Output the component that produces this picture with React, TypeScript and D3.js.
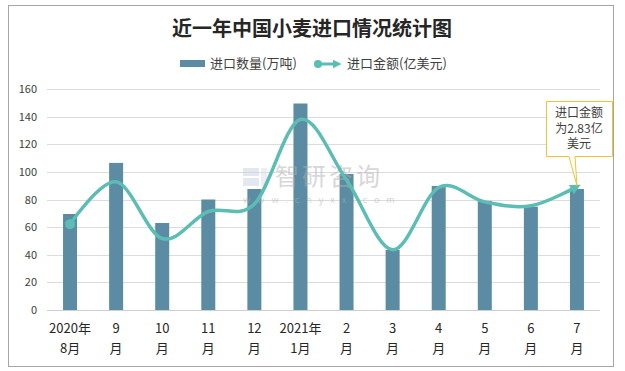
import React from "react";
import * as d3 from "d3";

// categories (two-line labels)
const labelTop = ["2020年", "9", "10", "11", "12", "2021年", "2", "3", "4", "5", "6", "7"];
const labelBottom = ["8月", "月", "月", "月", "月", "1月", "月", "月", "月", "月", "月", "月"];
// 进口数量(万吨)
const volume = [69.5, 106.5, 63, 80, 87.6, 149.5, 98.5, 43.5, 89.8, 79, 74.8, 87.6];
// 进口金额(亿美元)
const amount = [1.97, 2.94, 1.64, 2.26, 2.43, 4.37, 2.98, 1.38, 2.81, 2.48, 2.39, 2.83];
const yTicks = [0, 20, 40, 60, 80, 100, 120, 140, 160];
const calloutLines = ["进口金额", "为2.83亿", "美元"];

const W = 625;
const H = 371;
const BAR = "#5b8ca3";
const LINE = "#5bbdb3";
const FONT = "'Noto Sans CJK SC', 'Noto Sans', sans-serif";

export default function App() {
  const x = d3.scaleBand<number>().domain(d3.range(12)).range([47, 600]);
  const y = d3.scaleLinear().domain([0, 160]).range([310, 89]);
  const y2 = d3.scaleLinear().domain([0, 5.07]).range([310, 89]);
  const cx = (i: number) => (x(i) as number) + x.bandwidth() / 2;
  const barW = 14;

  const line = d3
    .line<number>()
    .x((d, i) => cx(i))
    .y(d => y2(d))
    .curve(d3.curveCardinal.tension(0));

  const last = amount.length - 1;

  return (
    <svg
      width={W}
      height={H}
      style={{ position: "absolute", left: 0, top: 0 }}
      fontFamily={FONT}
    >
      <defs>
        <marker
          id="arrow"
          viewBox="0 0 10 10"
          refX="6"
          refY="5"
          markerWidth="3"
          markerHeight="3"
          orient="auto"
          markerUnits="strokeWidth"
        >
          <path d="M0,0 L10,5 L0,10 z" fill={LINE} />
        </marker>
      </defs>
      <rect x={0} y={0} width={W} height={H} fill="#fff" />
      <rect x={8.5} y={5.5} width={605} height={361} fill="#fff" stroke="#a6a6a6" />

      {/* title */}
      <text
        x={312}
        y={36}
        textAnchor="middle"
        fontSize={20}
        fontWeight="bold"
        fill="#262626"
      >
        近一年中国小麦进口情况统计图
      </text>

      {/* legend */}
      <rect x={180} y={60} width={25} height={7} fill={BAR} />
      <text x={210} y={68} fontSize={13} fill="#404040">进口数量(万吨)</text>
      <line
        x1={318}
        y1={64}
        x2={338}
        y2={64}
        stroke={LINE}
        strokeWidth={3}
        markerEnd="url(#arrow)"
      />
      <circle cx={318} cy={64} r={4} fill={LINE} />
      <text x={347} y={68} fontSize={13} fill="#404040">进口金额(亿美元)</text>

      {/* grid + y axis */}
      {yTicks.map(t => (
        <g key={t}>
          <line
            x1={47}
            x2={600}
            y1={Math.round(y(t)) + 0.5}
            y2={Math.round(y(t)) + 0.5}
            stroke={t === 0 ? "#cfcfcf" : "#dcdcdc"}
          />
          <text x={37} y={y(t) + 4} textAnchor="end" fontSize={11} fill="#404040">
            {t}
          </text>
        </g>
      ))}

      {/* bars */}
      {volume.map((v, i) => (
        <rect
          key={i}
          x={cx(i) - barW / 2}
          y={y(v)}
          width={barW}
          height={y(0) - y(v)}
          fill={BAR}
        />
      ))}

      {/* watermark */}
      <g opacity={0.5}>
        <rect x={243} y={168} width={16} height={8} fill="#c9d1de" />
        <rect x={243} y={178} width={16} height={8} fill="#c9d1de" />
        <rect x={261} y={168} width={6} height={18} fill="#d9dfe8" />
        <text x={275} y={185} fontSize={24} fill="#b0b0b0" letterSpacing={3}>
          智研咨询
        </text>
        <text x={243} y={203} fontSize={9} fill="#b0b0b0" letterSpacing={7}>
          www.chyxx.com
        </text>
      </g>

      {/* line */}
      <path
        d={line(amount) || ""}
        fill="none"
        stroke={LINE}
        strokeWidth={3.5}
        markerEnd="url(#arrow)"
      />
      <circle cx={cx(0)} cy={y2(amount[0])} r={5} fill={LINE} />

      {/* x labels */}
      {labelTop.map((t, i) => (
        <g key={i} fontSize={13} fill="#262626" textAnchor="middle">
          <text x={cx(i)} y={333}>{t}</text>
          <text x={cx(i)} y={353}>{labelBottom[i]}</text>
        </g>
      ))}

      {/* callout */}
      <path
        d={`M546.5,101.5 H612.5 V156.5 H575 L${cx(last)},${y2(amount[last]) - 1} L569,156.5 H546.5 Z`}
        fill="#fff"
        stroke="#f5c032"
        strokeWidth={1}
      />
      <text fontSize={12} fill="#404040" textAnchor="middle">
        {calloutLines.map((s, k) => (
          <tspan key={k} x={579} y={117 + k * 15.5}>
            {s}
          </tspan>
        ))}
      </text>
    </svg>
  );
}
